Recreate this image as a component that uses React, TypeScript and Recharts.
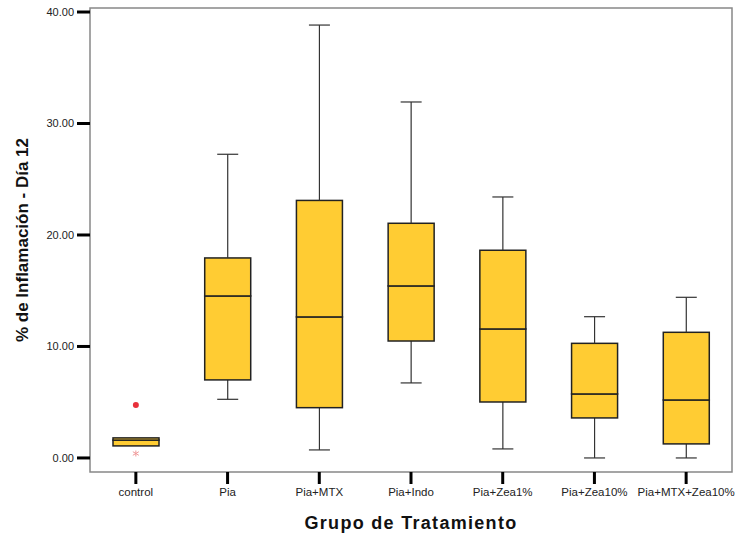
import React from "react"
import { Bar, ComposedChart, ReferenceArea, Scatter, XAxis, YAxis } from "recharts"

const categories = ["control", "Pia", "Pia+MTX", "Pia+Indo", "Pia+Zea1%", "Pia+Zea10%", "Pia+MTX+Zea10%"]
const mins = [1.08, 5.26, 0.72, 6.73, 0.81, 0, 0]
const q1s = [1.08, 7.0, 4.51, 10.49, 5.02, 3.59, 1.26]
const medians = [1.6, 14.53, 12.65, 15.43, 11.57, 5.74, 5.2]
const q3s = [1.8, 17.94, 23.1, 21.05, 18.63, 10.28, 11.27]
const maxs = [1.8, 27.24, 38.83, 31.93, 23.41, 12.67, 14.41]
const outliers = [4.75, null, null, null, null, null, null]
const extremes = [0.4, null, null, null, null, null, null]
const yTicks = [0, 10, 20, 30, 40]

const FONT = "'Liberation Sans', Arial, sans-serif"
const BOX_FILL = "#ffcc33"
const CAP = 10.5

const data = categories.map((name, i) => ({
    name,
    base: mins[i],
    lowWhisker: q1s[i] - mins[i],
    lowBox: medians[i] - q1s[i],
    highBox: q3s[i] - medians[i],
    highWhisker: maxs[i] - q3s[i],
    outlier: outliers[i],
    extreme: extremes[i],
}))

function LowWhisker({ x, y, width, height }: any) {
    if (!height || height < 0.5) return null
    const cx = x + width / 2
    return (
        <g stroke="#333" strokeWidth={1.2}>
            <line x1={cx} x2={cx} y1={y} y2={y + height} />
            <line x1={cx - CAP} x2={cx + CAP} y1={y + height} y2={y + height} />
        </g>
    )
}

function HighWhisker({ x, y, width, height }: any) {
    if (!height || height < 0.5) return null
    const cx = x + width / 2
    return (
        <g stroke="#333" strokeWidth={1.2}>
            <line x1={cx} x2={cx} y1={y} y2={y + height} />
            <line x1={cx - CAP} x2={cx + CAP} y1={y} y2={y} />
        </g>
    )
}

function BoxPart({ x, y, width, height }: any) {
    if (height == null || isNaN(height)) return null
    return <rect x={x} y={y} width={width} height={Math.max(height, 0)} fill={BOX_FILL} stroke="#222" strokeWidth={1.5} />
}

function OutlierDot({ cx, cy }: any) {
    if (cx == null || cy == null || isNaN(cy)) return <g />
    return <circle cx={cx} cy={cy} r={3} fill="#e8303a" />
}

function ExtremeMark({ cx, cy }: any) {
    if (cx == null || cy == null || isNaN(cy)) return <g />
    const r = 3
    return (
        <g stroke="#f09a9a" strokeWidth={1}>
            <line x1={cx} x2={cx} y1={cy - r} y2={cy + r} />
            <line x1={cx - r} x2={cx + r} y1={cy - r * 0.6} y2={cy + r * 0.6} />
            <line x1={cx - r} x2={cx + r} y1={cy + r * 0.6} y2={cy - r * 0.6} />
        </g>
    )
}

export default function App() {
    return (
        <div style={{ position: "absolute", left: 0, top: 0, background: "#fff" }}>
            <ComposedChart
                width={739}
                height={533}
                data={data}
                margin={{ top: 8, right: 7, bottom: 0, left: 0 }}
                barCategoryGap={0}
            >
                <XAxis
                    dataKey="name"
                    interval={0}
                    height={61}
                    axisLine={false}
                    tickLine={{ stroke: "#000", strokeWidth: 3 }}
                    tickSize={12}
                    tickMargin={4}
                    tick={{ fill: "#222", fontSize: 11.5, fontFamily: FONT }}
                    label={{
                        value: "Grupo de Tratamiento",
                        position: "insideBottom",
                        offset: 4,
                        style: { fill: "#111", fontSize: 18, fontWeight: "bold", fontFamily: FONT, letterSpacing: 1.3 },
                    }}
                />
                <YAxis
                    width={90}
                    domain={[-1.26, 40.36]}
                    ticks={yTicks}
                    allowDataOverflow
                    axisLine={false}
                    tickLine={{ stroke: "#000", strokeWidth: 3 }}
                    tickSize={13}
                    tickMargin={3}
                    tickFormatter={(v: number) => v.toFixed(2)}
                    tick={{ fill: "#222", fontSize: 11, fontFamily: FONT }}
                    label={{
                        value: "% de Inflamación - Día 12",
                        angle: -90,
                        position: "insideLeft",
                        offset: 22,
                        style: { textAnchor: "middle", fill: "#111", fontSize: 17, fontWeight: "bold", fontFamily: FONT },
                    }}
                />
                <ReferenceArea y1={-1.26} y2={40.36} fill="none" stroke="#888" strokeWidth={1.5} ifOverflow="visible" />
                <Bar dataKey="base" stackId="box" fill="none" barSize={46} isAnimationActive={false} />
                <Bar dataKey="lowWhisker" stackId="box" shape={<LowWhisker />} barSize={46} isAnimationActive={false} />
                <Bar dataKey="lowBox" stackId="box" shape={<BoxPart />} barSize={46} isAnimationActive={false} />
                <Bar dataKey="highBox" stackId="box" shape={<BoxPart />} barSize={46} isAnimationActive={false} />
                <Bar dataKey="highWhisker" stackId="box" shape={<HighWhisker />} barSize={46} isAnimationActive={false} />
                <Scatter dataKey="outlier" shape={<OutlierDot />} isAnimationActive={false} />
                <Scatter dataKey="extreme" shape={<ExtremeMark />} isAnimationActive={false} />
            </ComposedChart>
        </div>
    )
}
